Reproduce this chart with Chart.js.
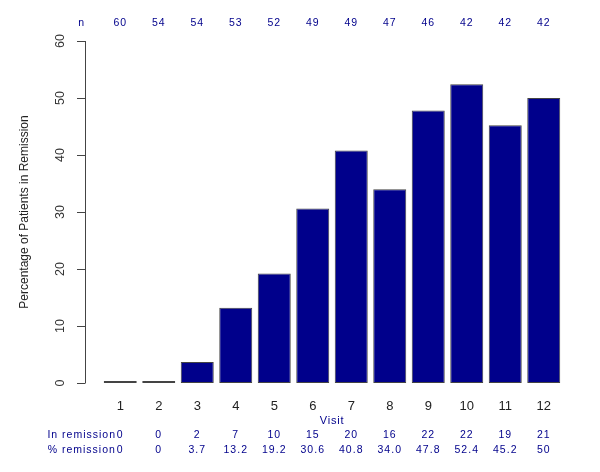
<!DOCTYPE html>
<html>
<head>
<meta charset="utf-8">
<script src="https://cdn.jsdelivr.net/npm/chart.js@4"></script>
<style>
  html, body { margin: 0; padding: 0; background: #ffffff; }
  #wrap { width: 600px; height: 472px; }
</style>
</head>
<body>
<div id="wrap"><canvas id="c" width="600" height="472"></canvas></div>
<script>
const visits = ['1','2','3','4','5','6','7','8','9','10','11','12'];
const pctRemission = [0, 0, 3.7, 13.2, 19.2, 30.6, 40.8, 34.0, 47.8, 52.4, 45.2, 50];
const pctLabels = ['0','0','3.7','13.2','19.2','30.6','40.8','34.0','47.8','52.4','45.2','50'];
const inRemission = [0, 0, 2, 7, 10, 15, 20, 16, 22, 22, 19, 21];
const nPatients = [60, 54, 54, 53, 52, 49, 49, 47, 46, 42, 42, 42];
const yTicks = [0, 10, 20, 30, 40, 50, 60];

const BLUE = '#00008B';
const FONT = '"Liberation Sans", Arial, sans-serif';

const decor = {
  id: 'decor',
  afterDraw(chart) {
    const ctx = chart.ctx;
    const xs = chart.scales.x, ys = chart.scales.y;
    const step = xs.getPixelForValue(1) - xs.getPixelForValue(0);
    const rowLabelX = xs.getPixelForValue(0) - step;
    const axX = chart.chartArea.left - 16;
    ctx.save();
    // y axis line + ticks
    ctx.strokeStyle = '#444';
    ctx.lineWidth = 1;
    ctx.beginPath();
    ctx.moveTo(axX + 0.5, ys.getPixelForValue(0));
    ctx.lineTo(axX + 0.5, ys.getPixelForValue(60));
    yTicks.forEach(v => {
      const py = Math.round(ys.getPixelForValue(v)) + 0.5;
      ctx.moveTo(axX + 0.5, py);
      ctx.lineTo(axX - 8, py);
    });
    ctx.stroke();
    // y tick labels rotated
    ctx.fillStyle = '#333';
    ctx.font = '12.5px ' + FONT;
    ctx.textAlign = 'center';
    ctx.textBaseline = 'middle';
    yTicks.forEach(v => {
      const py = ys.getPixelForValue(v);
      ctx.save();
      ctx.translate(axX - 24, py);
      ctx.rotate(-Math.PI / 2);
      ctx.fillText(String(v), 0, 0);
      ctx.restore();
    });
    // y title
    ctx.save();
    ctx.fillStyle = '#222';
    ctx.font = '12px ' + FONT;
    ctx.translate(25, (ys.getPixelForValue(0) + ys.getPixelForValue(60)) / 2);
    ctx.rotate(-Math.PI / 2);
    ctx.fillText('Percentage of Patients in Remission', 0, 0);
    ctx.restore();
    // x labels
    ctx.fillStyle = '#222';
    ctx.font = '13px ' + FONT;
    visits.forEach((v, i) => {
      ctx.fillText(v, xs.getPixelForValue(i), 406);
    });
    // Visit title
    ctx.fillStyle = BLUE;
    ctx.font = '11px ' + FONT;
    ctx.letterSpacing = '0.8px';
    ctx.fillText('Visit', (chart.chartArea.left + chart.chartArea.right) / 2, 421);
    // n row
    ctx.font = '10.5px ' + FONT;
    ctx.letterSpacing = '1px';
    ctx.fillText('n', rowLabelX, 23);
    nPatients.forEach((v, i) => ctx.fillText(String(v), xs.getPixelForValue(i), 23));
    // table rows
    ctx.fillText('In remission', rowLabelX, 435);
    inRemission.forEach((v, i) => ctx.fillText(String(v), xs.getPixelForValue(i), 435));
    ctx.fillText('% remission', rowLabelX, 450);
    pctLabels.forEach((v, i) => ctx.fillText(v, xs.getPixelForValue(i), 450));
    ctx.restore();
  }
};

new Chart(document.getElementById('c'), {
  type: 'bar',
  data: {
    labels: visits,
    datasets: [{
      data: pctRemission,
      backgroundColor: BLUE,
      borderColor: '#444',
      borderWidth: 1,
      borderSkipped: false,
      minBarLength: 2,
      barPercentage: 0.857,
      categoryPercentage: 1.0
    }]
  },
  options: {
    responsive: false,
    animation: false,
    devicePixelRatio: 1,
    layout: { padding: { left: 101, right: 37, top: 41, bottom: 89 } },
    plugins: { legend: { display: false }, tooltip: { enabled: false }, title: { display: false } },
    scales: {
      x: { display: false, grid: { display: false } },
      y: { display: false, min: 0, max: 60, grid: { display: false } }
    }
  },
  plugins: [decor]
});
</script>
</body>
</html>
